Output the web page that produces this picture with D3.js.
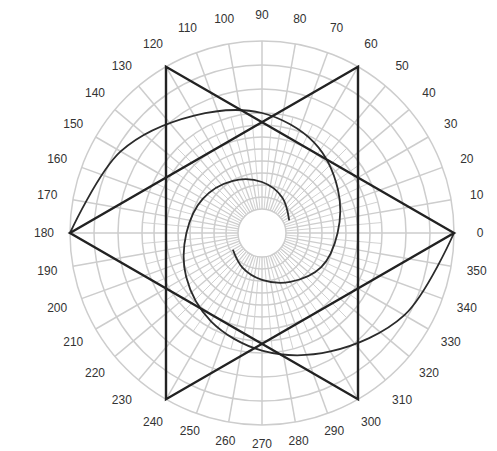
<!DOCTYPE html>
<html>
<head>
<meta charset="utf-8">
<script src="https://cdn.jsdelivr.net/npm/d3@7"></script>
<style>
  body { margin: 0; background: #fff; }
  .angleLabel { font-family: "Liberation Sans", Arial, sans-serif; font-size: 12px; fill: #333; }
</style>
</head>
<body>
<div id="chart"></div>
<script>
// polar grid: rings (in grid units) and spokes (degrees)
var ringValues = [2, 3, 4, 5, 6, 7, 8, 9, 10, 12, 14, 16];
var angleLabels = d3.range(0, 360, 10);

// two triangles of the hexagram, vertex angles (deg) at radius 16
var triangleUp = [0, 120, 240];
var triangleDown = [60, 180, 300];
var starRadius = 16;

// spiral arms: angle (deg), radius (grid units)
var armAAngles = [210, 240, 270, 300, 330, 360, 390, 420, 450, 480, 510, 540];
var armARadii  = [2.8, 3.3, 3.9, 4.7, 5.7, 6.3, 7.3, 8.7, 10.0, 11.3, 13.6, 16];
var armBAngles = [25, 60, 90, 120, 150, 180, 210, 240, 270, 300, 330, 360];
var armBRadii  = [2.5, 3.4, 4.25, 5.0, 5.7, 6.3, 7.3, 8.5, 9.8, 11.4, 13.7, 16];

var width = 497, height = 451;
var cx = 262, cy = 233;

var svg = d3.select("#chart").append("svg")
  .attr("width", width)
  .attr("height", height);
var chartGroup = svg.append("g")
  .attr("transform", "translate(" + cx + "," + cy + ")");

// radius scale: grid units -> pixels
var rScale = d3.scaleLinear().domain([0, 16]).range([0, 192]);
// angle scale: math degrees (ccw from east) -> d3 radial radians (cw from north)
var aScale = d3.scaleLinear().domain([0, 360]).range([Math.PI / 2, Math.PI / 2 - 2 * Math.PI]);

var gridColor = "#cdcdcd";

// rings
chartGroup.append("g").selectAll("circle")
  .data(ringValues)
  .enter().append("circle")
  .attr("r", function(d) { return rScale(d); })
  .attr("fill", "none")
  .attr("stroke", gridColor)
  .attr("stroke-width", 1.5);

// spokes: every 5 deg inside, every 10 deg in the outer rings
var innerSpokes = d3.range(0, 360, 5);
var outerSpokes = d3.range(0, 360, 10);
var spokeLine = d3.lineRadial()
  .angle(function(d) { return aScale(d[0]); })
  .radius(function(d) { return rScale(d[1]); });

chartGroup.append("g").selectAll("path.inner")
  .data(innerSpokes)
  .enter().append("path")
  .attr("d", function(d) { return spokeLine([[d, 2], [d, 10]]); })
  .attr("stroke", gridColor)
  .attr("stroke-width", function(d) { return d % 10 === 0 ? 1.3 : 0.9; });

chartGroup.append("g").selectAll("path.outer")
  .data(outerSpokes)
  .enter().append("path")
  .attr("d", function(d) { return spokeLine([[d, 10], [d, 16]]); })
  .attr("stroke", gridColor)
  .attr("stroke-width", 1.5);

// angle labels (bottom ones pulled in a little so they stay on the page)
function labelRadius(d) {
  return (d >= 250 && d <= 290) ? 211 : 218;
}
chartGroup.append("g").selectAll("text")
  .data(angleLabels)
  .enter().append("text")
  .attr("class", "angleLabel")
  .attr("x", function(d) { return labelRadius(d) * Math.cos(d * Math.PI / 180); })
  .attr("y", function(d) { return -labelRadius(d) * Math.sin(d * Math.PI / 180); })
  .attr("text-anchor", "middle")
  .attr("dy", "0.35em")
  .text(function(d) { return d; });

// spiral arms
var spiralLine = d3.lineRadial()
  .angle(function(d) { return aScale(d[0]); })
  .radius(function(d) { return rScale(d[1]); })
  .curve(d3.curveCatmullRom);

var armA = armAAngles.map(function(a, i) { return [a, armARadii[i]]; });
var armB = armBAngles.map(function(a, i) { return [a, armBRadii[i]]; });

chartGroup.append("g").selectAll("path")
  .data([armA, armB])
  .enter().append("path")
  .attr("d", spiralLine)
  .attr("fill", "none")
  .attr("stroke", "#2b2b2b")
  .attr("stroke-width", 1.8);

// hexagram
var starLine = d3.lineRadial()
  .angle(function(d) { return aScale(d); })
  .radius(rScale(starRadius))
  .curve(d3.curveLinearClosed);

chartGroup.append("g").selectAll("path")
  .data([triangleUp, triangleDown])
  .enter().append("path")
  .attr("d", starLine)
  .attr("fill", "none")
  .attr("stroke", "#222")
  .attr("stroke-width", 2.4)
  .attr("stroke-linejoin", "miter");
</script>
</body>
</html>
